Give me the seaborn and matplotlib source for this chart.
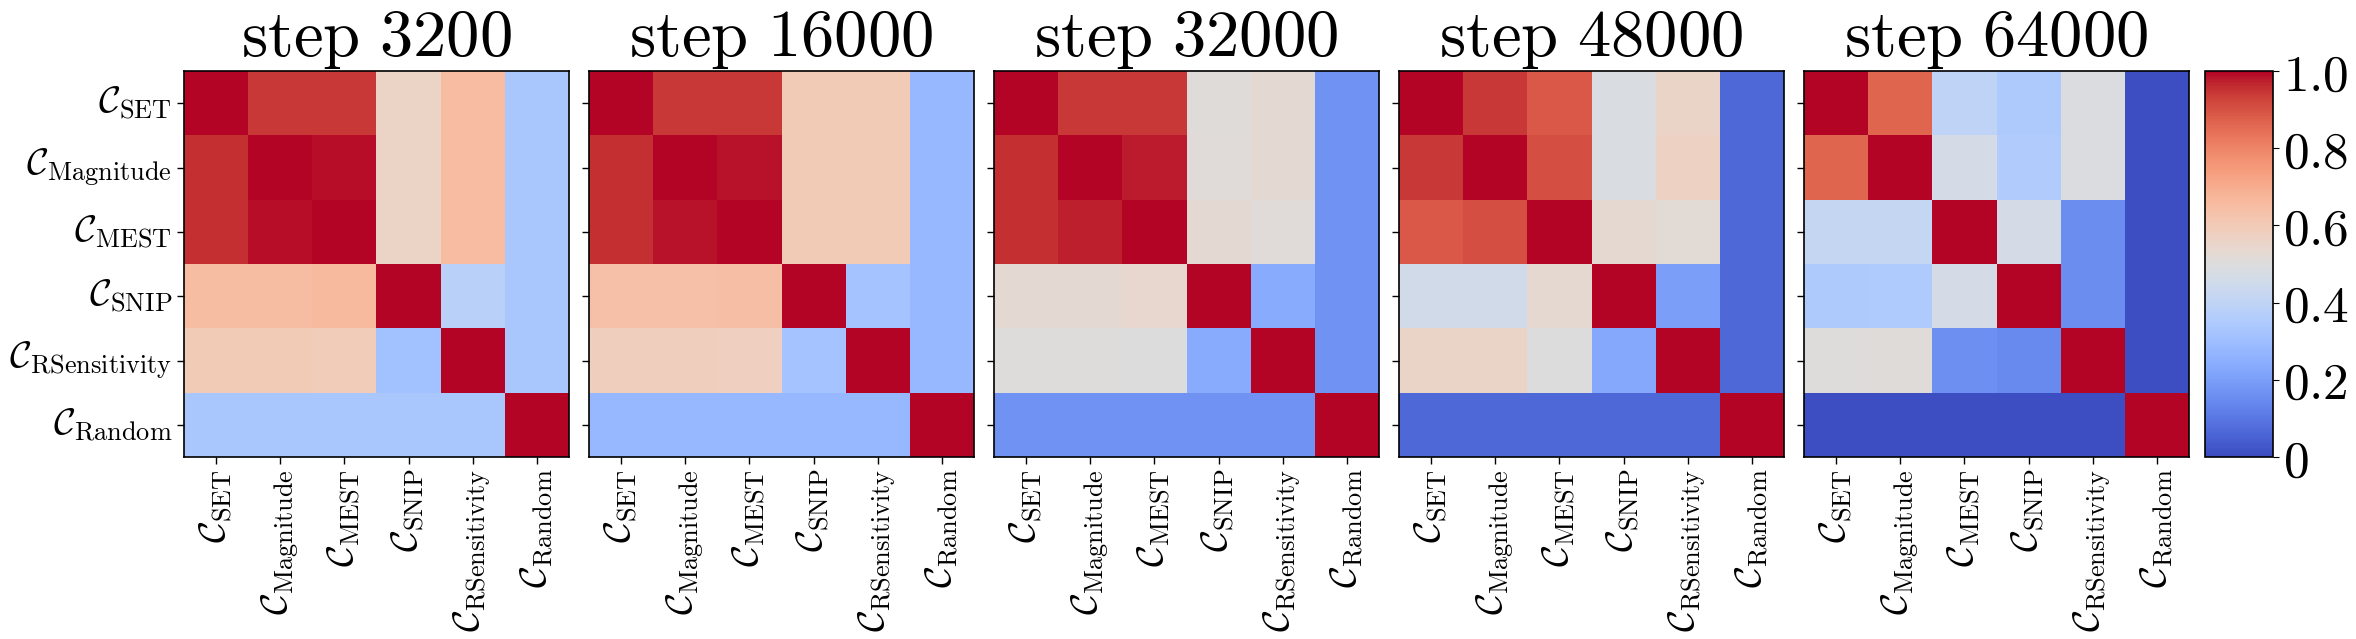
import numpy as np
import pandas as pd
import matplotlib
matplotlib.use('Agg')
import matplotlib.pyplot as plt
import seaborn as sns

# criteria names and training steps
names = ['SET', 'Magnitude', 'MEST', 'SNIP', 'RSensitivity', 'Random']
steps = [3200, 16000, 32000, 48000, 64000]

# similarity matrices (rows = y axis, cols = x axis)
sim_3200 = [
    [1.00, 0.945, 0.945, 0.56, 0.655, 0.33],
    [0.955, 1.00, 0.99, 0.56, 0.655, 0.33],
    [0.955, 0.99, 1.00, 0.56, 0.655, 0.33],
    [0.65, 0.65, 0.66, 1.00, 0.375, 0.33],
    [0.60, 0.60, 0.595, 0.31, 1.00, 0.33],
    [0.33, 0.33, 0.33, 0.33, 0.33, 1.00],
]
sim_16000 = [
    [1.00, 0.945, 0.945, 0.60, 0.60, 0.28],
    [0.955, 1.00, 0.985, 0.60, 0.60, 0.28],
    [0.955, 0.985, 1.00, 0.60, 0.60, 0.28],
    [0.64, 0.64, 0.645, 1.00, 0.32, 0.28],
    [0.585, 0.585, 0.58, 0.32, 1.00, 0.28],
    [0.28, 0.28, 0.28, 0.28, 0.28, 1.00],
]
sim_32000 = [
    [1.00, 0.945, 0.945, 0.51, 0.53, 0.17],
    [0.955, 1.00, 0.98, 0.515, 0.53, 0.17],
    [0.955, 0.975, 1.00, 0.53, 0.515, 0.17],
    [0.53, 0.53, 0.54, 1.00, 0.235, 0.17],
    [0.505, 0.505, 0.50, 0.235, 1.00, 0.17],
    [0.17, 0.17, 0.17, 0.17, 0.17, 1.00],
]
sim_48000 = [
    [1.00, 0.945, 0.89, 0.485, 0.555, 0.0625],
    [0.945, 1.00, 0.91, 0.485, 0.57, 0.0625],
    [0.89, 0.91, 1.00, 0.535, 0.52, 0.0625],
    [0.455, 0.455, 0.535, 1.00, 0.20, 0.0625],
    [0.555, 0.555, 0.50, 0.23, 1.00, 0.0625],
    [0.0625, 0.0625, 0.0625, 0.0625, 0.0625, 1.00],
]
sim_64000 = [
    [1.00, 0.865, 0.395, 0.345, 0.49, 0.005],
    [0.865, 1.00, 0.465, 0.355, 0.49, 0.005],
    [0.415, 0.415, 1.00, 0.465, 0.155, 0.005],
    [0.345, 0.35, 0.465, 1.00, 0.155, 0.005],
    [0.505, 0.51, 0.16, 0.145, 1.00, 0.005],
    [0.005, 0.005, 0.005, 0.005, 0.005, 1.00],
]
matrices = [sim_3200, sim_16000, sim_32000, sim_48000, sim_64000]

plt.rcParams['mathtext.fontset'] = 'cm'
plt.rcParams['font.family'] = 'serif'
plt.rcParams['font.serif'] = ['DejaVu Serif']

labels = [r'$\mathcal{C}_{\mathrm{%s}}$' % n for n in names]

W, H = 2356, 639
fig = plt.figure(figsize=(W / 100, H / 100), dpi=100)

for i, (step, mat) in enumerate(zip(steps, matrices)):
    ax = fig.add_axes([(184 + 405 * i) / W, (H - 457) / H, 385 / W, 386 / H])
    df = pd.DataFrame(mat, index=labels, columns=labels)
    sns.heatmap(df, ax=ax, cmap='coolwarm', vmin=0, vmax=1, cbar=False)
    for s in ax.spines.values():
        s.set_visible(True)
        s.set_linewidth(1.2)
    ax.set_title(r'$\mathrm{step\ %d}$' % step, fontsize=48, pad=1)
    ax.tick_params(length=5, width=1)
    ax.set_xticklabels(labels, rotation=90, fontsize=27)
    if i == 0:
        ax.set_yticklabels(labels, rotation=0, fontsize=27)
    else:
        ax.set_yticklabels([])

cax = fig.add_axes([2205 / W, (H - 457) / H, 68 / W, 386 / H])
cb = fig.colorbar(ax.collections[0], cax=cax)
cb.set_ticks([0, 0.2, 0.4, 0.6, 0.8, 1.0])
cb.set_ticklabels([r'$0$', r'$0.2$', r'$0.4$', r'$0.6$', r'$0.8$', r'$1.0$'])
cax.tick_params(labelsize=37, length=4, pad=3)
cb.outline.set_linewidth(1.2)

fig.savefig('out.png', dpi=100)
